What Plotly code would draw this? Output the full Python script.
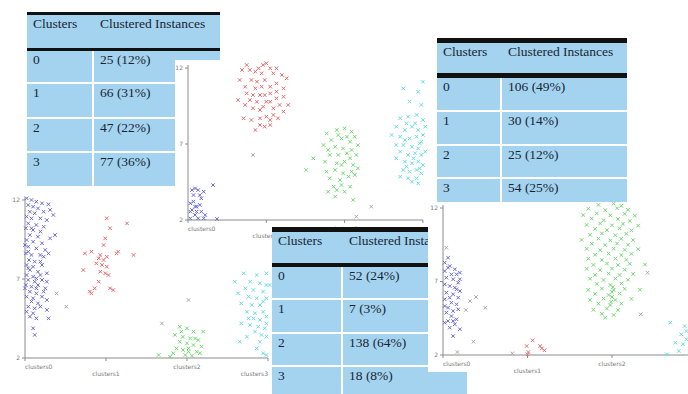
import plotly.graph_objects as go

W, H = 688, 394

# ---------------- data ----------------
CLUSTER_TICKS = [0, 1, 2, 3]
CLUSTER_LABELS = ["clusters0", "clusters1", "clusters2", "clusters3"]
Y_TICKS = [2, 7, 12]
Y_TICK_LABELS = ["2", "7", "12"]

TABLE_HEADER = ["Clusters", "Clustered Instances"]
CLUSTER_IDS = ["0", "1", "2", "3"]
A_INSTANCES = ["25 (12%)", "66 (31%)", "47 (22%)", "77 (36%)"]
B_INSTANCES = ["106 (49%)", "30 (14%)", "25 (12%)", "54 (25%)"]
C_INSTANCES = ["52 (24%)", "7 (3%)", "138 (64%)", "18 (8%)"]

# Chart A (top middle) : (cluster position with jitter, attribute value)
A_C0 = [(0.09, 4.08), (0.13, 3.97), (0.20, 3.86), (0.32, 4.30), (0.07, 3.64), (0.11, 2.88), (0.15, 2.99),
        (0.17, 2.55), (0.05, 2.66), (0.09, 2.33), (0.03, 2.11), (0.13, 2.11), (0.20, 2.11), (0.07, 3.21),
        (0.17, 3.43), (0.03, 3.10), (0.22, 2.33), (0.11, 2.55), (0.37, 2.07), (0.05, 3.97), (0.15, 3.64),
        (0.03, 2.55), (0.09, 2.88)]
A_C1 = [(0.69, 11.87), (0.79, 11.87), (0.90, 11.98), (1.00, 12.31), (1.05, 11.98), (1.13, 11.98), (0.94, 11.65),
        (0.81, 11.21), (0.66, 11.21), (0.86, 10.66), (0.94, 10.77), (1.05, 10.77), (1.13, 10.99), (1.26, 11.32),
        (0.75, 10.33), (0.92, 10.22), (1.05, 10.33), (1.13, 10.44), (0.79, 9.89), (0.88, 9.78), (1.00, 9.78),
        (1.13, 10.00), (0.64, 9.89), (0.83, 9.35), (0.96, 9.46), (1.09, 9.35), (1.17, 9.57), (1.28, 9.57),
        (0.71, 8.69), (0.92, 8.69), (1.00, 8.80), (1.09, 8.91), (0.86, 7.92), (0.98, 8.14), (1.05, 8.25),
        (0.75, 12.20), (0.86, 11.76), (0.96, 12.20), (1.09, 11.65), (1.20, 11.54), (0.73, 10.77), (0.88, 11.10),
        (0.98, 11.21), (1.22, 10.66), (0.83, 10.22), (0.98, 10.22), (1.22, 10.11), (0.73, 9.57), (0.92, 9.24),
        (1.05, 9.78), (1.22, 9.13), (0.81, 8.58), (1.05, 8.58), (1.15, 8.69), (0.92, 8.25)]
A_C2 = [(1.77, 7.70), (1.90, 7.92), (2.00, 8.03), (2.09, 7.81), (1.83, 7.26), (1.96, 7.37), (2.07, 7.15),
        (2.13, 7.48), (1.88, 6.82), (1.98, 6.71), (2.09, 6.61), (1.81, 6.28), (1.92, 6.28), (2.03, 6.39),
        (2.15, 6.28), (1.60, 6.06), (1.75, 5.84), (1.90, 5.73), (2.00, 5.84), (2.11, 5.62), (1.51, 5.29),
        (1.77, 5.18), (1.88, 5.29), (1.98, 5.07), (2.09, 5.18), (2.17, 5.40), (1.81, 4.74), (1.94, 4.63),
        (2.05, 4.85), (2.13, 4.96), (1.86, 4.19), (1.96, 4.30), (2.07, 4.19), (1.79, 3.86), (1.90, 3.97),
        (2.00, 3.86), (1.88, 3.54), (2.11, 3.32), (1.92, 7.59), (2.03, 7.48), (1.73, 6.93), (2.17, 6.93),
        (1.79, 6.61), (1.96, 5.62), (2.07, 6.06)]
A_C3 = [(2.75, 10.66), (2.94, 10.44), (3.00, 11.10), (2.83, 9.79), (2.98, 9.57), (2.71, 8.69), (2.81, 8.80),
        (2.92, 8.91), (3.00, 8.58), (2.66, 8.14), (2.77, 7.92), (2.86, 8.14), (2.94, 7.92), (3.00, 7.59),
        (2.60, 7.59), (2.71, 7.48), (2.83, 7.37), (2.92, 7.48), (2.98, 7.15), (2.75, 6.93), (2.86, 6.82),
        (2.94, 6.71), (2.71, 6.50), (2.81, 6.28), (2.90, 6.39), (2.98, 6.28), (2.66, 6.06), (2.77, 5.84),
        (2.86, 5.73), (2.94, 5.84), (3.00, 5.62), (2.75, 5.29), (2.83, 5.18), (2.92, 5.29), (2.98, 5.07),
        (2.71, 4.85), (2.81, 4.74), (2.92, 4.74), (2.86, 4.52), (2.94, 4.41), (2.79, 8.36), (2.90, 8.36),
        (2.96, 7.04), (2.77, 7.26), (2.66, 6.93), (3.03, 6.50), (2.88, 6.06), (2.79, 5.51), (2.96, 5.40),
        (3.03, 8.14)]
A_GRAY = [(0.83, 6.28), (2.34, 2.88), (2.15, 2.22)]

# Chart B (bottom left)
B_C0 = [(0.02, 12.11), (0.08, 12.00), (0.14, 11.89), (0.21, 11.79), (0.29, 11.73), (0.04, 11.68), (0.10, 11.58),
        (0.16, 11.47), (0.06, 11.26), (0.12, 11.16), (0.23, 11.26), (0.31, 11.37), (0.35, 11.05), (0.02, 10.95),
        (0.08, 10.84), (0.19, 10.84), (0.27, 10.73), (0.04, 10.52), (0.14, 10.42), (0.23, 10.31), (0.01, 10.21),
        (0.10, 10.10), (0.19, 10.00), (0.06, 9.78), (0.16, 9.68), (0.31, 9.57), (0.37, 9.78), (0.02, 9.47),
        (0.10, 9.36), (0.21, 9.26), (0.04, 9.05), (0.14, 8.94), (0.25, 8.84), (0.01, 8.62), (0.08, 8.52),
        (0.19, 8.52), (0.29, 8.62), (0.05, 8.20), (0.12, 8.10), (0.02, 7.89), (0.10, 7.78), (0.21, 7.89),
        (0.06, 7.57), (0.16, 7.46), (0.02, 7.25), (0.10, 7.15), (0.19, 7.25), (0.27, 7.36), (0.04, 6.94),
        (0.12, 6.83), (0.21, 6.94), (0.01, 6.62), (0.08, 6.51), (0.16, 6.62), (0.25, 6.41), (0.06, 6.20),
        (0.14, 6.09), (0.02, 5.88), (0.10, 5.78), (0.21, 5.88), (0.08, 5.57), (0.16, 5.46), (0.27, 5.67),
        (0.04, 5.25), (0.12, 5.14), (0.19, 5.25), (0.02, 4.93), (0.10, 4.83), (0.27, 5.04), (0.06, 4.62),
        (0.14, 4.51), (0.29, 4.51), (0.10, 3.88), (0.12, 3.46), (0.04, 8.73), (0.23, 8.41), (0.08, 10.21),
        (0.00, 6.41), (0.14, 6.41), (0.23, 6.20), (0.04, 7.68), (0.00, 9.15), (0.19, 8.10), (0.27, 6.83),
        (0.14, 7.04)]
B_C1 = [(1.01, 10.84), (1.26, 10.52), (1.05, 10.21), (0.74, 8.62), (0.82, 8.73), (0.93, 8.52), (0.97, 8.20),
        (1.01, 8.41), (1.15, 8.73), (1.34, 8.52), (0.88, 7.99), (0.95, 7.89), (1.01, 7.78), (0.72, 7.57),
        (0.93, 7.46), (0.99, 7.36), (1.03, 7.25), (0.91, 6.83), (0.86, 6.41), (0.82, 6.09), (1.05, 6.41),
        (1.09, 6.30), (0.97, 9.15), (0.99, 9.57), (1.13, 8.62), (0.91, 8.31), (0.80, 6.20)]
B_C2 = [(1.91, 3.98), (2.00, 3.88), (2.08, 3.67), (2.20, 3.67), (1.85, 3.46), (1.95, 3.35), (2.04, 3.24),
        (2.14, 3.14), (1.91, 3.03), (2.00, 2.93), (2.08, 2.82), (2.18, 2.72), (1.87, 2.61), (1.95, 2.51),
        (2.02, 2.40), (2.12, 2.40), (1.65, 2.19), (1.79, 2.08), (1.98, 2.19), (2.06, 2.15), (2.16, 2.30),
        (1.93, 3.67), (2.02, 2.61), (2.10, 3.24), (1.83, 2.30)]
B_C3 = [(2.70, 7.36), (2.86, 7.25), (2.98, 7.36), (2.78, 6.83), (2.90, 6.73), (2.98, 6.62), (2.72, 6.41),
        (2.82, 6.30), (2.94, 6.20), (2.76, 5.88), (2.86, 5.78), (2.98, 5.78), (2.67, 5.46), (2.80, 5.35),
        (2.90, 5.35), (2.74, 4.93), (2.84, 4.83), (2.94, 4.93), (2.98, 4.62), (2.82, 4.51), (2.90, 4.41),
        (2.67, 4.19), (2.78, 4.09), (2.88, 3.98), (2.96, 3.88), (2.92, 3.46), (2.98, 3.35), (2.65, 3.03),
        (2.86, 2.61), (2.94, 2.30), (2.98, 2.19), (2.63, 6.09), (2.94, 5.57), (2.76, 4.51), (2.98, 4.19),
        (2.84, 3.67), (2.90, 3.03), (2.59, 6.83), (3.02, 6.62), (2.74, 3.35)]
B_GRAY = [(0.39, 6.09), (0.51, 5.25), (2.02, 5.67), (1.69, 4.19)]

# Chart C (bottom right)
C_C0 = [(0.06, 8.62), (0.02, 8.28), (0.08, 8.05), (0.14, 7.83), (0.20, 7.60), (0.02, 7.71), (0.10, 7.49),
        (0.04, 7.26), (0.12, 7.15), (0.18, 6.92), (0.02, 6.81), (0.08, 6.69), (0.16, 6.47), (0.20, 6.35),
        (0.04, 6.24), (0.12, 6.13), (0.18, 5.90), (0.02, 5.79), (0.10, 5.56), (0.16, 5.45), (0.06, 5.22),
        (0.12, 4.99), (0.04, 4.88), (0.10, 4.65), (0.16, 4.43), (0.06, 4.31), (0.14, 4.09), (0.08, 3.86),
        (0.20, 3.75), (0.12, 3.29), (0.02, 4.20), (0.18, 5.11), (0.08, 5.90), (0.14, 6.58), (0.06, 7.94),
        (0.16, 7.49), (0.02, 5.33), (0.12, 4.31), (0.20, 7.15)]
C_C1 = [(1.06, 3.00), (0.99, 2.61), (1.15, 2.61), (1.20, 2.32), (1.01, 2.20), (1.00, 2.05), (1.17, 2.45)]
C_C2 = [(1.84, 12.21), (2.02, 12.30), (2.11, 12.15),
        (1.72, 11.95), (1.92, 11.85), (2.06, 11.98), (2.19, 11.88),
        (1.66, 11.52), (1.82, 11.63), (1.98, 11.50), (2.15, 11.60), (2.27, 11.48),
        (1.76, 11.28), (1.90, 11.17), (2.07, 11.25), (2.21, 11.12),
        (1.70, 10.85), (1.86, 10.95), (2.00, 10.82), (2.13, 10.93), (2.31, 10.80),
        (1.80, 10.58), (1.94, 10.50), (2.09, 10.62), (2.23, 10.48),
        (1.74, 10.18), (1.88, 10.27), (2.04, 10.15), (2.17, 10.24),
        (1.64, 9.83), (1.84, 9.92), (1.98, 9.80), (2.11, 9.90), (2.25, 9.82),
        (1.76, 9.57), (1.92, 9.48), (2.06, 9.58), (2.19, 9.50),
        (1.70, 9.22), (1.86, 9.13), (2.02, 9.24), (2.15, 9.15), (2.31, 9.20),
        (1.80, 8.82), (1.96, 8.90), (2.11, 8.80), (2.23, 8.88),
        (1.72, 8.55), (1.88, 8.46), (2.04, 8.56), (2.17, 8.47),
        (1.78, 8.13), (1.94, 8.22), (2.07, 8.12), (2.21, 8.20), (2.39, 8.15),
        (1.70, 7.86), (1.86, 7.78), (2.00, 7.88), (2.15, 7.80),
        (1.80, 7.45), (1.96, 7.54), (2.09, 7.44), (2.25, 7.52),
        (1.74, 7.19), (1.90, 7.10), (2.04, 7.20), (2.19, 7.12),
        (1.82, 6.84), (1.98, 6.76), (2.11, 6.86),
        (1.72, 6.43), (1.88, 6.52), (2.02, 6.42), (2.15, 6.50), (2.33, 6.44),
        (1.80, 6.16), (1.96, 6.08), (2.09, 6.18),
        (1.74, 5.75), (1.90, 5.84), (2.04, 5.74), (2.23, 5.82),
        (1.84, 5.49), (1.98, 5.40), (2.11, 5.50),
        (1.78, 5.08), (1.94, 5.16), (2.07, 5.06),
        (1.88, 4.80), (2.02, 4.72), (1.92, 4.54),
        (2.00, 6.30), (2.00, 5.95), (2.01, 6.62), (1.99, 5.62)]
C_C3 = [(2.69, 4.20), (2.86, 3.97), (2.82, 3.41), (2.88, 3.07), (2.84, 2.73), (2.79, 2.27), (2.65, 2.05),
        (2.90, 2.50), (2.75, 2.84), (2.88, 3.63)]
C_GRAY = [(0.32, 5.67), (0.39, 5.95), (0.50, 5.22), (0.27, 5.06), (0.36, 2.91), (0.17, 2.20), (0.04, 9.30),
          (0.82, 2.11), (2.42, 7.60), (2.34, 4.77)]

# ---------------- styles ----------------
CLUSTER_COLORS = ["#6a6ad6", "#e86a6a", "#6fd86f", "#66dbe4"]
GRAY_COLOR = "#a8a8a8"
AXIS_COLOR = "#8c8c8c"
LABEL_FONT = dict(size=6, color="#7a7a7a", family="DejaVu Sans")
TABLE_FONT = dict(size=13.5, color="#1a2534", family="Liberation Serif")
CELL_BLUE = "#a3d3ee"
BLACK = "#111111"

fig = go.Figure()
axes_layout = {}
counter = [0]


def add_axes(box, xr, yr):
    counter[0] += 1
    k = counter[0]
    sfx = "" if k == 1 else str(k)
    x0, x1, y0, y1 = box
    axes_layout["xaxis" + sfx] = dict(domain=[x0 / W, x1 / W], range=xr, visible=False,
                                      fixedrange=True, anchor="y" + sfx)
    axes_layout["yaxis" + sfx] = dict(domain=[1 - y1 / H, 1 - y0 / H], range=yr, visible=False,
                                      fixedrange=True, anchor="x" + sfx)
    return "x" + sfx, "y" + sfx


def add_rects(xa, ya, rects, color):
    xs, ys = [], []
    for (a, b, c, d) in rects:
        xs += [a, b, b, a, a, None]
        ys += [c, c, d, d, c, None]
    fig.add_trace(go.Scatter(x=xs, y=ys, mode="lines", fill="toself", fillcolor=color,
                             line=dict(width=0, color=color), xaxis=xa, yaxis=ya,
                             hoverinfo="skip", showlegend=False))


def scatter_panel(box, x0px, sx, y2px, sy, xend, clusters, gray):
    bx0, bx1, by0, by1 = box
    ymin, ymax = Y_TICKS[0], Y_TICKS[-1]
    xr = [(bx0 - x0px) / sx, (bx1 - x0px) / sx]
    yr = [ymin + (y2px - by1) / sy, ymin + (y2px - by0) / sy]
    xa, ya = add_axes(box, xr, yr)
    add_rects(xa, ya, [(xr[0], xr[1], yr[0], yr[1])], "white")
    # axis lines and ticks
    ax_x = [0, 0, None, 0, xend]
    ax_y = [ymax + 3 / sy, ymin, None, ymin, ymin]
    for t in CLUSTER_TICKS:
        ax_x += [None, t, t]
        ax_y += [None, ymin, ymin - 3 / sy]
    for t in Y_TICKS:
        ax_x += [None, 0, -3 / sx]
        ax_y += [None, t, t]
    fig.add_trace(go.Scatter(x=ax_x, y=ax_y, mode="lines", line=dict(color=AXIS_COLOR, width=1),
                             xaxis=xa, yaxis=ya, hoverinfo="skip", showlegend=False))
    # points
    for pts, col in [(gray, GRAY_COLOR)] + list(zip(clusters, CLUSTER_COLORS)):
        fig.add_trace(go.Scatter(x=[p[0] for p in pts], y=[p[1] for p in pts], mode="markers",
                                 marker=dict(symbol="x-thin", size=3.5, color=col,
                                             line=dict(width=1, color=col)),
                                 xaxis=xa, yaxis=ya, hoverinfo="skip", showlegend=False))
    # y tick labels
    fig.add_trace(go.Scatter(x=[-5 / sx] * len(Y_TICKS), y=Y_TICKS, text=Y_TICK_LABELS, mode="text",
                             textposition="middle left", textfont=LABEL_FONT, cliponaxis=False,
                             xaxis=xa, yaxis=ya, hoverinfo="skip", showlegend=False))
    # x tick labels (alternating rows)
    lab_y = [ymin - (9 if i % 2 == 0 else 16) / sy for i in range(len(CLUSTER_TICKS))]
    pos = ["middle right"] + ["middle center"] * (len(CLUSTER_TICKS) - 2) + ["middle left"]
    fig.add_trace(go.Scatter(x=CLUSTER_TICKS, y=lab_y, text=CLUSTER_LABELS, mode="text",
                             textposition=pos, textfont=LABEL_FONT, cliponaxis=False,
                             xaxis=xa, yaxis=ya, hoverinfo="skip", showlegend=False))


def table_panel(box, split, border_b, header_b, thick_b, rows, values):
    left, right, top, bottom = box
    w, h = right - left, bottom - top
    xa, ya = add_axes(box, [0, w], [h, 0])
    sp = split - left
    add_rects(xa, ya, [(0, w, 0, h)], "white")
    add_rects(xa, ya, [(0, w, 0, border_b - top), (0, w, header_b - top, thick_b - top)], BLACK)
    blue = [(0, w, border_b - top, header_b - top)]
    for (r0, r1) in rows:
        blue.append((0, sp - 1, r0 - top, r1 - top))
        blue.append((sp + 1, w, r0 - top, r1 - top))
    add_rects(xa, ya, blue, CELL_BLUE)
    tx = [6, sp + 7]
    xs = [tx[0], tx[1]]
    ys = [border_b - top + 10] * 2
    texts = list(TABLE_HEADER)
    for (r0, r1), cid, val in zip(rows, CLUSTER_IDS, values):
        xs += tx
        ys += [r0 - top + 10] * 2
        texts += [cid, val]
    fig.add_trace(go.Scatter(x=xs, y=ys, text=texts, mode="text", textposition="middle right",
                             textfont=TABLE_FONT, xaxis=xa, yaxis=ya, hoverinfo="skip",
                             showlegend=False))


# Layering order: bottom-left chart, table A, top chart, table C, bottom-right chart, table B
scatter_panel((0, 272, 188, 385), 25, 81.0, 358, 15.8, 3.0,
              [B_C0, B_C1, B_C2, B_C3], B_GRAY)
table_panel((27, 220, 12, 186), 93, 15, 48, 51,
            [(51, 82), (84, 117), (119, 151), (153, 186)], A_INSTANCES)
scatter_panel((175, 433, 60, 242), 188, 78.3, 220, 15.2, 3.0,
              [A_C0, A_C1, A_C2, A_C3], A_GRAY)
table_panel((272, 467, 227, 394), 342, 232, 263, 267,
            [(267, 298), (300, 332), (334, 365), (367, 394)], C_INSTANCES)
scatter_panel((428, 688, 185, 372), 443, 84.5, 355, 14.7, 2.95,
              [C_C0, C_C1, C_C2, C_C3], C_GRAY)
table_panel((437, 627, 38, 202), 501, 43, 73, 78,
            [(78, 110), (112, 144), (146, 177), (179, 202)], B_INSTANCES)

fig.update_layout(width=W, height=H, margin=dict(l=0, r=0, t=0, b=0), showlegend=False,
                  paper_bgcolor="white", plot_bgcolor="rgba(0,0,0,0)", **axes_layout)
fig.write_html("out.html", config={"displayModeBar": False},
               post_script="document.body.style.margin='0';document.body.style.overflow='hidden';")
